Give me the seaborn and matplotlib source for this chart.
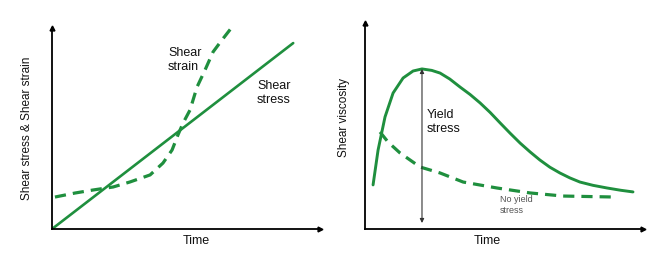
#%%
import pandas as pd
import seaborn as sns
import matplotlib.pyplot as plt

#%%
sns.set_style('white')
plt.rcParams['font.family'] = ['Liberation Sans', 'DejaVu Sans']
plt.rcParams['text.color'] = '#111111'
plt.rcParams['axes.labelcolor'] = '#111111'

green = '#1f8f3e'

# left panel: shear stress (straight) and shear strain (dashed)
stress_time = [0.0, 9.0]
stress_val = [0.0, 9.25]

strain_time = [0.11, 0.86, 1.53, 2.28, 2.91, 3.66, 4.14, 4.48, 4.70, 4.89, 5.15, 5.41, 5.71,
               6.01, 6.34, 6.72]
strain_val = [1.59, 1.79, 1.94, 2.09, 2.34, 2.69, 3.28, 3.93, 4.68, 5.27, 5.92, 7.06, 7.91,
              8.81, 9.40, 10.05]

# right panel: viscosity with / without yield stress
visc_time = [0.29, 0.47, 0.72, 1.01, 1.37, 1.73, 2.05, 2.40, 2.70, 3.05, 3.42, 3.78, 4.14, 4.50,
             4.86, 5.22, 5.58, 5.94, 6.29, 6.65, 7.01, 7.37, 7.73, 8.20, 8.71, 9.20, 9.64]
visc_val = [2.14, 3.83, 5.44, 6.60, 7.33, 7.67, 7.77, 7.70, 7.57, 7.28, 6.89, 6.53, 6.12, 5.66,
            5.15, 4.65, 4.17, 3.74, 3.35, 3.00, 2.72, 2.48, 2.28, 2.12, 1.99, 1.88, 1.80]

noyield_time = [0.54, 0.83, 1.26, 1.98, 2.70, 3.53, 4.75, 5.94, 7.12, 9.06]
noyield_val = [4.71, 4.22, 3.69, 3.01, 2.72, 2.28, 1.99, 1.75, 1.60, 1.55]

yield_time = 2.05
yield_top = 7.77
yield_bottom = 0.29

#%%
W, H = 661, 271
fig = plt.figure(figsize=(W / 100, H / 100), dpi=100)
ax1 = fig.add_axes([52 / W, 42 / H, 268 / W, 201 / H])
ax2 = fig.add_axes([365 / W, 42 / H, 278 / W, 206 / H])

stress_df = pd.DataFrame({'t': stress_time, 'v': stress_val})
strain_df = pd.DataFrame({'t': strain_time, 'v': strain_val})
sns.lineplot(x='t', y='v', data=stress_df, ax=ax1, color=green, lw=1.9, sort=False)
sns.lineplot(x='t', y='v', data=strain_df, ax=ax1, color=green, lw=2.3, sort=False,
             linestyle=(0, (3.5, 2.2)))

visc_df = pd.DataFrame({'t': visc_time, 'v': visc_val})
noy_df = pd.DataFrame({'t': noyield_time, 'v': noyield_val})
sns.lineplot(x='t', y='v', data=visc_df, ax=ax2, color=green, lw=2.1, sort=False)
sns.lineplot(x='t', y='v', data=noy_df, ax=ax2, color=green, lw=2.3, sort=False,
             linestyle=(0, (3.5, 2.2)))

ax2.annotate('', xy=(yield_time, yield_top), xytext=(yield_time, yield_bottom),
             arrowprops=dict(arrowstyle='<|-|>', color='#333333', lw=0.8, mutation_scale=6,
                             shrinkA=0, shrinkB=0))

for ax in (ax1, ax2):
    ax.set_xlim(0, 10)
    ax.set_ylim(0, 10)
    ax.set_xticks([])
    ax.set_yticks([])
    for s in ['top', 'right']:
        ax.spines[s].set_visible(False)
    for s in ['left', 'bottom']:
        ax.spines[s].set_color('black')
        ax.spines[s].set_linewidth(1.3)
    ax.plot(1, 0, '>k', ms=3.5, transform=ax.transAxes, clip_on=False)
    ax.plot(0, 1, '^k', ms=3.5, transform=ax.transAxes, clip_on=False)

ax1.set_xlabel('Time', fontsize=9)
ax1.xaxis.set_label_coords(0.54, -0.03)
ax1.xaxis.label.set_va('top')
ax1.set_ylabel('Shear stress & Shear strain', fontsize=8.5)
ax1.yaxis.set_label_coords(-0.07, 0.5)

ax2.set_xlabel('Time', fontsize=9)
ax2.xaxis.set_label_coords(0.44, -0.03)
ax2.xaxis.label.set_va('top')
ax2.set_ylabel('Shear viscosity', fontsize=8.5)
ax2.yaxis.set_label_coords(-0.055, 0.54)

ax1.text(4.33, 8.41, 'Shear\nstrain', fontsize=9, va='center', ha='left', linespacing=1.15)
ax1.text(7.65, 6.77, 'Shear\nstress', fontsize=9, va='center', ha='left', linespacing=1.15)
ax2.text(2.23, 5.19, 'Yield\nstress', fontsize=9, va='center', ha='left', linespacing=1.15)
ax2.text(4.86, 1.17, 'No yield\nstress', fontsize=6.5, va='center', ha='left',
         color='#555555', linespacing=1.2)

fig.savefig('out.png', dpi=100)
